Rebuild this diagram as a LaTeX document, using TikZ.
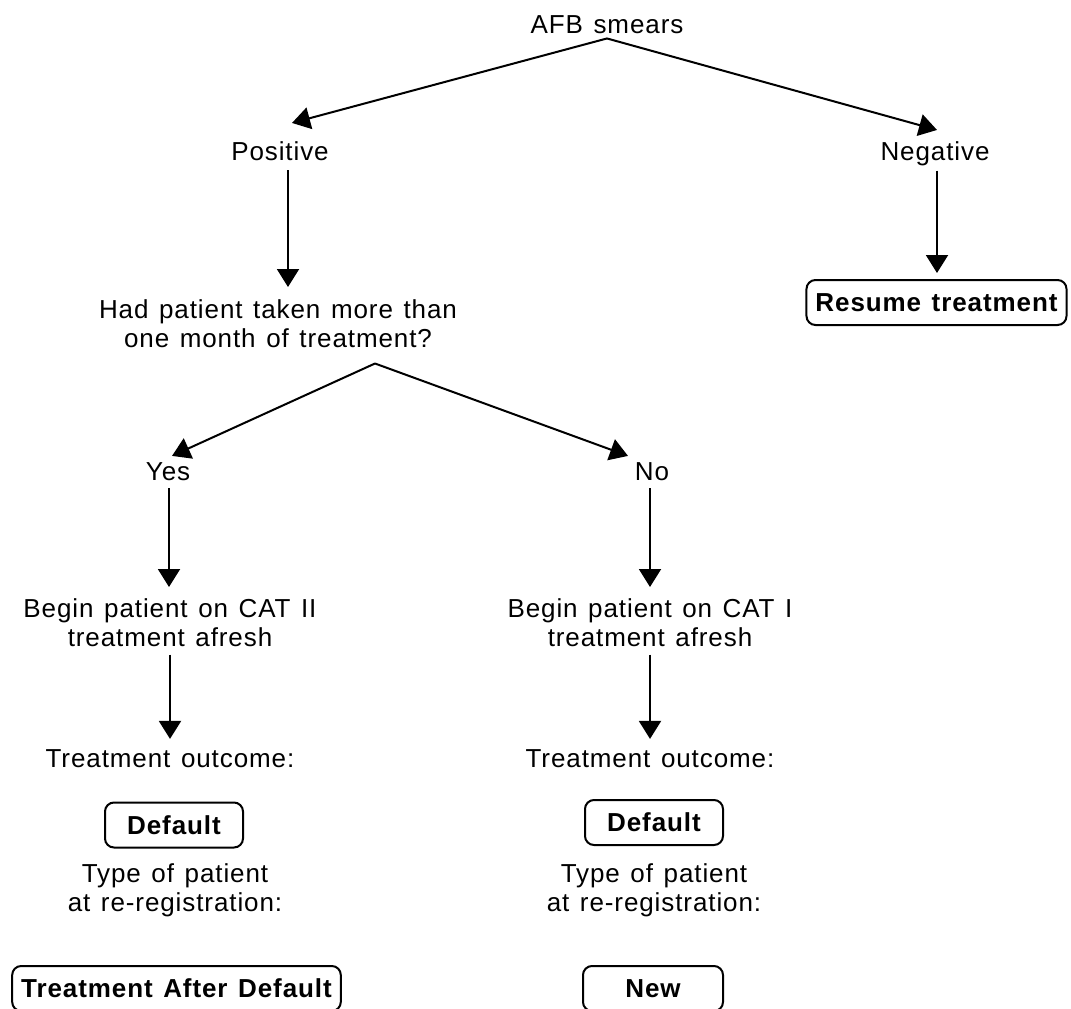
\documentclass[tikz,border=0pt]{standalone}
\usepackage{fontspec}
\setmainfont{Liberation Sans}[LetterSpace=3.5,WordSpace=1.3]
\usetikzlibrary{arrows.meta}
\begin{document}
\begin{tikzpicture}[x=1pt,y=-1pt,
  every node/.style={font=\fontsize{26}{29}\selectfont},
  lbl/.style={inner sep=0pt,anchor=base},
  multi/.style={inner sep=0pt,anchor=north,align=center},
  box/.style={draw,line width=2pt,rounded corners=9pt,minimum height=45pt,
    inner xsep=9pt,inner ysep=0pt,font=\fontsize{26}{29}\selectfont\bfseries},
  arr/.style={line width=2pt,-{Triangle[length=18pt,width=22pt]}},
]
\useasboundingbox (0,0) rectangle (1071,1009);
\clip (0,0) rectangle (1071,1009);

% first question and its two answers
\node[lbl] (afb) at (607,33) {AFB smears};
\node[lbl] (pos) at (280,160) {Positive};
\node[lbl] (neg) at (935,160) {Negative};
\node[box] (resume) at (936.5,302.5) {Resume treatment};
\node[multi] (had) at (278,299) {Had patient taken more than\\one month of treatment?};

% second question: left and right branches
\node[lbl] (yes) at (168,480) {Yes};
\node[lbl] (no) at (652,480) {No};
\node[multi] (cat2) at (170,598) {Begin patient on CAT II\\treatment afresh};
\node[multi] (cat1) at (650,598) {Begin patient on CAT I\\treatment afresh};
\node[lbl] (out2) at (170,767) {Treatment outcome:};
\node[lbl] (out1) at (650,767) {Treatment outcome:};
\node[box,minimum width=138pt] (def2) at (174,825) {Default};
\node[box,minimum width=138pt] (def1) at (654,822.5) {Default};
\node[multi] (typ2) at (175,863) {Type of patient\\at re-registration:};
\node[multi] (typ1) at (654,863) {Type of patient\\at re-registration:};
\node[box] (tad) at (176.5,988.5) {Treatment After Default};
\node[box,minimum width=140pt] (new) at (653,988.5) {New};

% connectors
\draw[arr] ([yshift=-5pt]afb.south) -- ([xshift=12pt,yshift=18pt]pos.north);
\draw[arr] ([yshift=-5pt]afb.south) -- ([xshift=2pt,yshift=11pt]neg.north);
\draw[arr] ([xshift=8pt,yshift=-10pt]pos.south) -- ([xshift=8pt,yshift=12pt]pos.south |- had.north);
\draw[arr] ([xshift=2pt,yshift=-5pt]neg.south) -- ([xshift=2pt,yshift=6pt]neg.south |- resume.north);
\draw[arr] ([xshift=97pt,yshift=-16pt]had.south) -- ([xshift=4pt,yshift=6pt]yes.north);
\draw[arr] ([xshift=97pt,yshift=-16pt]had.south) -- ([xshift=-24pt,yshift=6pt]no.north);
\draw[arr] ([xshift=1pt,yshift=-8pt]yes.south) -- ([xshift=1pt,yshift=11pt]yes.south |- cat2.north);
\draw[arr] ([xshift=-2pt,yshift=-8pt]no.south) -- ([xshift=-2pt,yshift=11pt]no.south |- cat1.north);
\draw[arr] ([yshift=-8pt]cat2.south) -- ([yshift=10pt]cat2.south |- out2.north);
\draw[arr] ([yshift=-8pt]cat1.south) -- ([yshift=10pt]cat1.south |- out1.north);
\end{tikzpicture}
\end{document}
